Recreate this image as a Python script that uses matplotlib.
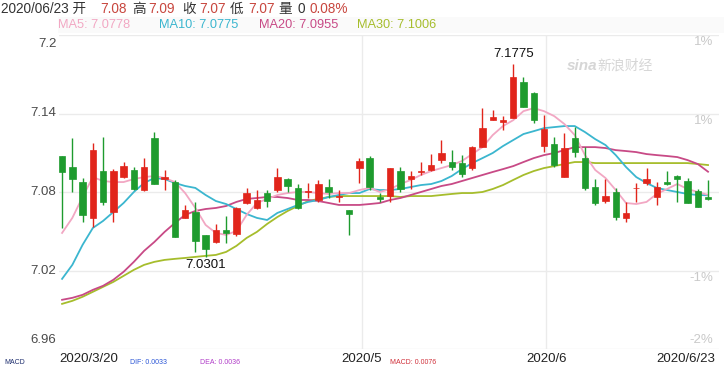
import numpy as np
import matplotlib
matplotlib.use("Agg")
import matplotlib.pyplot as plt
from matplotlib.patches import Rectangle

# ---------------- data ----------------
opens = [7.1075, 7.0991, 7.0876, 7.0602, 7.0960, 7.0647, 7.0915, 7.0968, 7.0815, 7.1212,
         7.0899, 7.0876, 7.0602, 7.0647, 7.0472, 7.0418, 7.0510, 7.0479, 7.0716, 7.0678,
         7.0792, 7.0815, 7.0899, 7.0831, 7.0800, 7.0739, 7.0838, 7.0762, 7.0663, 7.0983,
         7.1060, 7.0762, 7.0769, 7.0960, 7.0899, 7.0953, 7.0968, 7.1044, 7.1029, 7.1021,
         7.0983, 7.1144, 7.1350, 7.1334, 7.1365, 7.1640, 7.1556, 7.1151, 7.1166, 7.0915,
         7.1212, 7.1060, 7.0838, 7.0731, 7.0800, 7.0602, 7.0827, 7.0869, 7.0762, 7.0876,
         7.0922, 7.0884, 7.0808, 7.0762]
highs = [7.1075, 7.1212, 7.0907, 7.1174, 7.1220, 7.0976, 7.1029, 7.0991, 7.1060, 7.1258,
         7.0968, 7.0892, 7.0701, 7.0724, 7.0472, 7.0556, 7.0617, 7.0685, 7.0831, 7.0815,
         7.0815, 7.0983, 7.0907, 7.0861, 7.0869, 7.0892, 7.0899, 7.0815, 7.0663, 7.1060,
         7.1075, 7.0792, 7.0983, 7.0991, 7.0960, 7.1029, 7.1090, 7.1197, 7.1121, 7.1082,
         7.1151, 7.1441, 7.1426, 7.1380, 7.1775, 7.1678, 7.1563, 7.1388, 7.1220, 7.1250,
         7.1296, 7.1144, 7.0899, 7.0899, 7.0831, 7.0724, 7.0869, 7.0983, 7.0876, 7.0960,
         7.0930, 7.0907, 7.0823, 7.0892]
lows = [7.0525, 7.0800, 7.0571, 7.0533, 7.0701, 7.0571, 7.0907, 7.0815, 7.0808, 7.0861,
        7.0815, 7.0456, 7.0602, 7.0342, 7.0301, 7.0411, 7.0411, 7.0464, 7.0708, 7.0670,
        7.0685, 7.0800, 7.0800, 7.0670, 7.0754, 7.0724, 7.0754, 7.0724, 7.0472, 7.0869,
        7.0815, 7.0724, 7.0724, 7.0800, 7.0823, 7.0930, 7.0960, 7.1021, 7.0968, 7.0915,
        7.0968, 7.1144, 7.1350, 7.1273, 7.1365, 7.1449, 7.1327, 7.1105, 7.0991, 7.0915,
        7.1067, 7.0815, 7.0701, 7.0716, 7.0586, 7.0571, 7.0724, 7.0853, 7.0701, 7.0853,
        7.0724, 7.0716, 7.0685, 7.0739]
closes = [7.0953, 7.0899, 7.0624, 7.1121, 7.0724, 7.0960, 7.0998, 7.0823, 7.0991, 7.0861,
          7.0915, 7.0456, 7.0663, 7.0426, 7.0365, 7.0510, 7.0487, 7.0678, 7.0792, 7.0739,
          7.0731, 7.0915, 7.0846, 7.0678, 7.0808, 7.0861, 7.0800, 7.0769, 7.0632, 7.1037,
          7.0838, 7.0747, 7.0983, 7.0823, 7.0922, 7.0960, 7.1006, 7.1098, 7.0991, 7.0937,
          7.1144, 7.1289, 7.1373, 7.1350, 7.1678, 7.1449, 7.1350, 7.1281, 7.1006, 7.1136,
          7.1105, 7.0831, 7.0716, 7.0769, 7.0609, 7.0640, 7.0831, 7.0899, 7.0838, 7.0861,
          7.0899, 7.0716, 7.0685, 7.0747]

ma5 = [7.0487, 7.0602, 7.0762, 7.0914, 7.0884, 7.0876, 7.0876, 7.0899, 7.0914, 7.0922,
       7.0907, 7.0876, 7.0792, 7.0678, 7.0548, 7.0487, 7.0472, 7.0502, 7.0625, 7.0716,
       7.0747, 7.0777, 7.0792, 7.0800, 7.0800, 7.0792, 7.0785, 7.0792, 7.0792, 7.0815,
       7.0831, 7.0800, 7.0823, 7.0861, 7.0892, 7.0930, 7.0960, 7.0983, 7.1006, 7.1037,
       7.1090, 7.1143, 7.1235, 7.1304, 7.1349, 7.1418, 7.1441, 7.1418, 7.1380, 7.1319,
       7.1235, 7.1082, 7.0968, 7.0907, 7.0815, 7.0716, 7.0708, 7.0724, 7.0785, 7.0823,
       7.0861, 7.0823, 7.0800, 7.0778]
ma10 = [7.0136, 7.0243, 7.0396, 7.0525, 7.0579, 7.0647, 7.0716, 7.0800, 7.0869, 7.0907,
        7.0899, 7.0869, 7.0846, 7.0831, 7.0777, 7.0731, 7.0708, 7.0670, 7.0632, 7.0602,
        7.0586, 7.0640, 7.0670, 7.0701, 7.0724, 7.0739, 7.0762, 7.0777, 7.0792, 7.0792,
        7.0823, 7.0815, 7.0815, 7.0823, 7.0838, 7.0853, 7.0861, 7.0884, 7.0922, 7.0975,
        7.1021, 7.1059, 7.1098, 7.1151, 7.1197, 7.1243, 7.1265, 7.1288, 7.1296, 7.1304,
        7.1304, 7.1258, 7.1204, 7.1159, 7.1082, 7.0991, 7.0914, 7.0869, 7.0831, 7.0815,
        7.0800, 7.0785, 7.0777, 7.0775]
ma20 = [6.9976, 6.9991, 7.0014, 7.0052, 7.0083, 7.0129, 7.0190, 7.0266, 7.0350, 7.0418,
        7.0495, 7.0563, 7.0625, 7.0655, 7.0670, 7.0678, 7.0693, 7.0724, 7.0747, 7.0754,
        7.0762, 7.0762, 7.0754, 7.0739, 7.0739, 7.0731, 7.0716, 7.0701, 7.0701, 7.0701,
        7.0708, 7.0716, 7.0739, 7.0754, 7.0777, 7.0800, 7.0823, 7.0846, 7.0861, 7.0884,
        7.0907, 7.0930, 7.0953, 7.0975, 7.0998, 7.1029, 7.1059, 7.1082, 7.1098, 7.1120,
        7.1143, 7.1143, 7.1143, 7.1136, 7.1120, 7.1113, 7.1105, 7.1090, 7.1082, 7.1075,
        7.1067, 7.1044, 7.1014, 7.0955]
ma30 = [6.9945, 6.9968, 6.9999, 7.0037, 7.0075, 7.0113, 7.0159, 7.0205, 7.0243, 7.0266,
        7.0281, 7.0289, 7.0296, 7.0304, 7.0312, 7.0319, 7.0342, 7.0388, 7.0449, 7.0495,
        7.0556, 7.0609, 7.0655, 7.0693, 7.0731, 7.0747, 7.0762, 7.0769, 7.0769, 7.0769,
        7.0769, 7.0769, 7.0769, 7.0762, 7.0769, 7.0769, 7.0769, 7.0777, 7.0785, 7.0792,
        7.0792, 7.0800, 7.0823, 7.0853, 7.0892, 7.0930, 7.0960, 7.0983, 7.0998, 7.1014,
        7.1029, 7.1029, 7.1021, 7.1021, 7.1021, 7.1021, 7.1021, 7.1021, 7.1021, 7.1021,
        7.1021, 7.1021, 7.1014, 7.1006]

date_labels = ["2020/3/20", "2020/5", "2020/6", "2020/6/23"]
date_idx = [0, 29, 47, 63]
price_ticks = [7.2, 7.14, 7.08, 7.02, 6.96]
price_tick_labels = ["7.2", "7.14", "7.08", "7.02", "6.96"]
pct_tick_values = [7.2, 7.14, 7.02, 6.96]
pct_tick_labels = ["1%", "1%", "-1%", "-2%"]

header_parts = [("2020/06/23 开", "#333333"), ("7.08", "#c8473f"), ("高", "#333333"),
                ("7.09", "#c8473f"), ("收", "#333333"), ("7.07", "#c8473f"),
                ("低", "#333333"), ("7.07", "#c8473f"), ("量", "#333333"),
                ("0", "#333333"), ("0.08%", "#c8473f")]
ma_labels = ["MA5: 7.0778", "MA10: 7.0775", "MA20: 7.0955", "MA30: 7.1006"]
indicator_labels = ["MACD", "DIF: 0.0033", "DEA: 0.0036", "MACD: 0.0076"]
max_label = "7.1775"
min_label = "7.0301"

# ---------------- style ----------------
RED = "#e1251b"
GREEN = "#1e9b2e"
MA_COLORS = ["#f2a7c3", "#3bb6cf", "#c84a86", "#a6bd2c"]
GRID = "#ebebeb"
FONT = ["Liberation Sans", "Noto Sans CJK SC", "DejaVu Sans"]
plt.rcParams["font.family"] = FONT

W, H = 724, 367
fig = plt.figure(figsize=(W / 100, H / 100), dpi=100)
fig.patch.set_facecolor("white")

def fx(px):
    return px / W

def fy(py):
    return 1 - py / H

ax = fig.add_axes([fx(59), fy(349), fx(719) - fx(59), fy(35) - fy(349)])
ax.set_xlim(-0.3, 64.07)
ax.set_ylim(6.96, 7.2)
for s in ax.spines.values():
    s.set_visible(False)
ax.set_xticks([])
ax.set_yticks([])

for v in price_ticks:
    ax.axhline(v, color=GRID, lw=1, zorder=0)
for i in date_idx[1:3]:
    ax.axvline(i + 0.22, color=GRID, lw=1, zorder=0)

x = np.arange(len(closes))
# MA lines
for ma, c in zip([ma30, ma20, ma10, ma5], MA_COLORS[::-1]):
    ax.plot(x, ma, color=c, lw=1.3, zorder=2, solid_joinstyle="round")

bw = 0.62
for i in range(len(closes)):
    o, h, l, c = opens[i], highs[i], lows[i], closes[i]
    col = RED if c >= o else GREEN
    ax.vlines(i, l, h, color=col, lw=1.0, zorder=3)
    bottom = min(o, c)
    height = max(abs(c - o), 0.0006)
    ax.add_patch(Rectangle((i - bw / 2, bottom), bw, height, facecolor=col,
                           edgecolor=col, lw=0.5, zorder=4))

# max/min labels
imax = int(np.argmax(highs))
imin = int(np.argmin(lows))
ax.annotate(max_label, (imax, highs[imax]), xytext=(0, 3), textcoords="offset points",
            ha="center", va="bottom", fontsize=9.5, color="#111111", zorder=5)
ax.annotate(min_label, (imin, lows[imin]), xytext=(0, -1), textcoords="offset points",
            ha="center", va="top", fontsize=9.5, color="#111111", zorder=5)

# left price labels
for v, t in zip(price_ticks, price_tick_labels):
    if v == price_ticks[0]:
        va, off = "top", -2
    elif v == price_ticks[-1]:
        va, off = "bottom", 2
    else:
        va, off = "center", 0
    ax.annotate(t, (0, v), xycoords=("axes fraction", "data"), xytext=(-2, off),
                textcoords="offset points", ha="right", va=va, fontsize=9.5,
                color="#4a4a4a")

# right percent labels
for v, t in zip(pct_tick_values, pct_tick_labels):
    if v == pct_tick_values[-1]:
        va, off = "bottom", 2
    else:
        va, off = "top", -1
    ax.annotate(t, (1, v), xycoords=("axes fraction", "data"), xytext=(-4, off),
                textcoords="offset points", ha="right", va=va, fontsize=9.5,
                color="#c9c9c9")

# date labels
for i, t in zip(date_idx, date_labels):
    if i == date_idx[0]:
        ax.annotate(t, (0, 0), xycoords="axes fraction", xytext=(0, -3),
                    textcoords="offset points", ha="left", va="top", fontsize=9.5,
                    color="#222222")
    elif i == date_idx[-1]:
        ax.annotate(t, (1, 0), xycoords="axes fraction", xytext=(-3, -3),
                    textcoords="offset points", ha="right", va="top", fontsize=9.5,
                    color="#222222")
    else:
        ax.annotate(t, (i + 0.22, 0), xycoords=("data", "axes fraction"),
                    xytext=(0, -3), textcoords="offset points", ha="center",
                    va="top", fontsize=9.5, color="#222222")

# watermark
fig.text(fx(567), fy(66), "sina", fontsize=11, color="#d6d6d6", style="italic",
         fontweight="bold", va="center", ha="left")
fig.text(fx(597), fy(66), "新浪财经", fontsize=10, color="#d6d6d6", va="center",
         ha="left", family=["Noto Sans CJK SC"])

# header
for (t, c), px in zip(header_parts, [1, 100, 132, 148, 182, 199, 230, 248, 278, 298, 310]):
    fig.text(fx(px), fy(9), t, fontsize=9.8, color=c, va="center", ha="left")

# MA legend row
fig.patches.append(Rectangle((fx(58), fy(33)), fx(700), fy(17) - fy(33),
                             transform=fig.transFigure, facecolor="#fafafa",
                             edgecolor="none", zorder=0))
for t, c, px in zip(ma_labels, MA_COLORS, [58, 159, 259, 357]):
    fig.text(fx(px), fy(25), t, fontsize=9.2, color=c, va="center", ha="left")

# indicator row at the very bottom (small so it stays inside the picture)
for t, c, px in zip(indicator_labels,
                    ["#1f2f6f", "#2a55d6", "#b03cc8", "#d0303a"],
                    [4, 130, 200, 390]):
    fig.text(fx(px), fy(366), t, fontsize=5, color=c, va="bottom", ha="left")

fig.savefig("out.png", dpi=100, facecolor="white")
